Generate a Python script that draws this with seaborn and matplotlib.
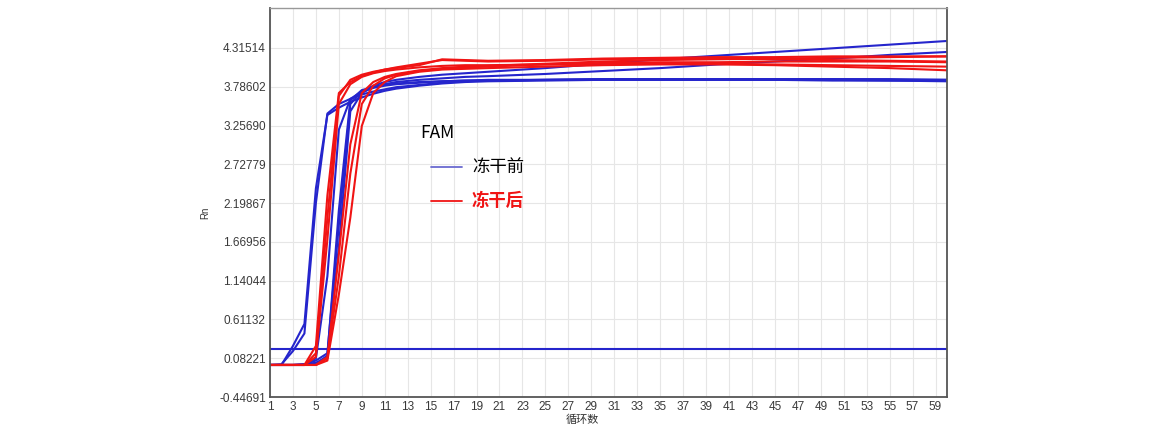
import pandas as pd
import matplotlib.pyplot as plt
import seaborn as sns
from matplotlib.ticker import FixedLocator

# ===== data =====
cycles = [1, 2, 3, 4, 5, 6, 7, 8, 9, 10, 11, 12, 14, 16, 18, 20, 25, 30, 35, 40, 45, 50, 55, 60]

before_wells = {
    "B1": [-0.01, -0.01, 0.25, 0.55, 2.40, 3.40, 3.50, 3.58, 3.64, 3.69, 3.73, 3.76, 3.80, 3.83, 3.85, 3.86, 3.87, 3.88, 3.88, 3.88, 3.88, 3.88, 3.87, 3.87],
    "B2": [-0.01, 0.00, 0.18, 0.42, 2.20, 3.42, 3.55, 3.62, 3.68, 3.72, 3.75, 3.78, 3.81, 3.84, 3.86, 3.87, 3.88, 3.89, 3.89, 3.89, 3.89, 3.89, 3.89, 3.88],
    "B3": [-0.01, -0.01, -0.01, 0.00, 0.05, 0.15, 1.90, 3.55, 3.72, 3.80, 3.85, 3.88, 3.92, 3.95, 3.97, 3.99, 4.04, 4.10, 4.16, 4.21, 4.26, 4.31, 4.36, 4.41],
    "B4": [-0.01, -0.01, -0.01, 0.00, 0.02, 0.10, 1.60, 3.45, 3.70, 3.78, 3.82, 3.85, 3.88, 3.90, 3.92, 3.93, 3.96, 4.00, 4.04, 4.09, 4.13, 4.17, 4.22, 4.26],
    "B5": [-0.01, -0.01, -0.01, -0.01, 0.00, 0.12, 2.10, 3.60, 3.74, 3.78, 3.81, 3.83, 3.85, 3.86, 3.87, 3.88, 3.88, 3.89, 3.89, 3.89, 3.89, 3.89, 3.88, 3.88],
    "B6": [-0.01, -0.01, -0.01, -0.01, 0.08, 1.20, 3.20, 3.62, 3.72, 3.77, 3.80, 3.82, 3.84, 3.86, 3.87, 3.87, 3.88, 3.88, 3.88, 3.88, 3.88, 3.87, 3.87, 3.86],
}
after_wells = {
    "R1": [-0.01, -0.01, -0.01, -0.01, 0.15, 2.00, 3.66, 3.88, 3.95, 3.99, 4.02, 4.04, 4.08, 4.16, 4.15, 4.14, 4.15, 4.17, 4.18, 4.19, 4.19, 4.20, 4.20, 4.20],
    "R2": [-0.01, -0.01, -0.01, -0.01, 0.10, 1.70, 3.55, 3.82, 3.92, 3.97, 4.00, 4.02, 4.05, 4.07, 4.08, 4.08, 4.09, 4.10, 4.10, 4.10, 4.09, 4.08, 4.07, 4.06],
    "R3": [-0.01, -0.01, -0.01, -0.01, 0.25, 2.30, 3.70, 3.85, 3.93, 3.98, 4.02, 4.05, 4.10, 4.15, 4.14, 4.13, 4.14, 4.16, 4.17, 4.17, 4.16, 4.15, 4.14, 4.13],
    "R4": [-0.01, -0.01, -0.01, -0.01, -0.01, 0.05, 0.95, 2.00, 3.25, 3.70, 3.85, 3.93, 3.99, 4.02, 4.03, 4.04, 4.06, 4.08, 4.09, 4.09, 4.08, 4.06, 4.04, 4.01],
    "R5": [-0.01, -0.01, -0.01, -0.01, -0.01, 0.10, 1.50, 3.00, 3.70, 3.85, 3.92, 3.96, 4.01, 4.04, 4.06, 4.07, 4.10, 4.13, 4.15, 4.16, 4.17, 4.18, 4.19, 4.20],
    "R6": [-0.01, -0.01, -0.01, -0.01, -0.01, 0.08, 1.20, 2.60, 3.55, 3.80, 3.90, 3.95, 4.00, 4.03, 4.05, 4.06, 4.09, 4.11, 4.12, 4.12, 4.13, 4.13, 4.13, 4.12],
}
threshold = 0.21

y_ticks = [-0.44691, 0.08221, 0.61132, 1.14044, 1.66956, 2.19867, 2.72779, 3.25690, 3.78602, 4.31514]
x_ticks = list(range(1, 60, 2))

BLUE = "#2525cc"
RED = "#f01414"

rows = []
for grp, wells in (("冻干前", before_wells), ("冻干后", after_wells)):
    for well, vals in wells.items():
        for c, v in zip(cycles, vals):
            rows.append({"group": grp, "well": well, "cycle": c, "rn": v})
df = pd.DataFrame(rows)

# ===== plot =====
sns.set_theme(style="white")
plt.rcParams["font.family"] = ["Liberation Sans", "Noto Sans CJK SC", "DejaVu Sans"]

fig = plt.figure(figsize=(11.72, 4.4), dpi=100)
ax = fig.add_axes([270 / 1172, 43 / 440, 677 / 1172, 389 / 440])

ax.axhline(threshold, color=BLUE, lw=1.5, zorder=2)
sns.lineplot(data=df, x="cycle", y="rn", hue="group", units="well", estimator=None,
             palette={"冻干前": BLUE, "冻干后": RED}, hue_order=["冻干前", "冻干后"],
             lw=1.5, legend=False, sort=False, ax=ax)

ax.set_xlim(1, 60)
ax.set_ylim(-0.44691, 4.86)
ax.xaxis.set_major_locator(FixedLocator(x_ticks))
ax.yaxis.set_major_locator(FixedLocator(y_ticks))
ax.set_yticklabels([f"{t:.5f}" for t in y_ticks])
ax.set_xticklabels([str(t) for t in x_ticks])
ax.tick_params(axis="both", length=0, pad=3, labelsize=8.5, labelcolor="#3a3a3a")
ax.grid(True, color="#e6e6e6", lw=0.8)
for side in ["left", "bottom", "right"]:
    ax.spines[side].set_color("#555555")
    ax.spines[side].set_linewidth(1.3)
ax.spines["top"].set_color("#999999")
ax.spines["top"].set_linewidth(1.0)

ax.set_xlabel("")
ax.set_ylabel("")
fig.text(582 / 1172, 1 - 420 / 440, "循环数", ha="center", va="center", fontsize=8,
         color="#333333", family=["Noto Sans CJK SC", "DejaVu Sans"])
fig.text(205 / 1172, 1 - 213 / 440, "Rn", ha="center", va="center", fontsize=7,
         rotation=90, color="#333333")

# legend block
cjk = ["Noto Sans CJK SC", "DejaVu Sans"]
fig.text(420 / 1172, 1 - 133 / 440, "FAM", ha="left", va="center", fontsize=12.5,
         color="black", family=cjk)
fig.add_artist(plt.Line2D([431 / 1172, 462 / 1172], [1 - 167 / 440, 1 - 167 / 440],
                          color="#6a6ad0", lw=1.3, transform=fig.transFigure))
fig.text(472 / 1172, 1 - 167 / 440, "冻干前", ha="left", va="center", fontsize=12.5,
         color="black", family=cjk)
fig.add_artist(plt.Line2D([431 / 1172, 462 / 1172], [1 - 201 / 440, 1 - 201 / 440],
                          color=RED, lw=1.3, transform=fig.transFigure))
fig.text(472 / 1172, 1 - 201 / 440, "冻干后", ha="left", va="center", fontsize=12.5,
         color=RED, fontweight="bold", family=cjk)

fig.savefig("out.png", dpi=100, facecolor="white")
